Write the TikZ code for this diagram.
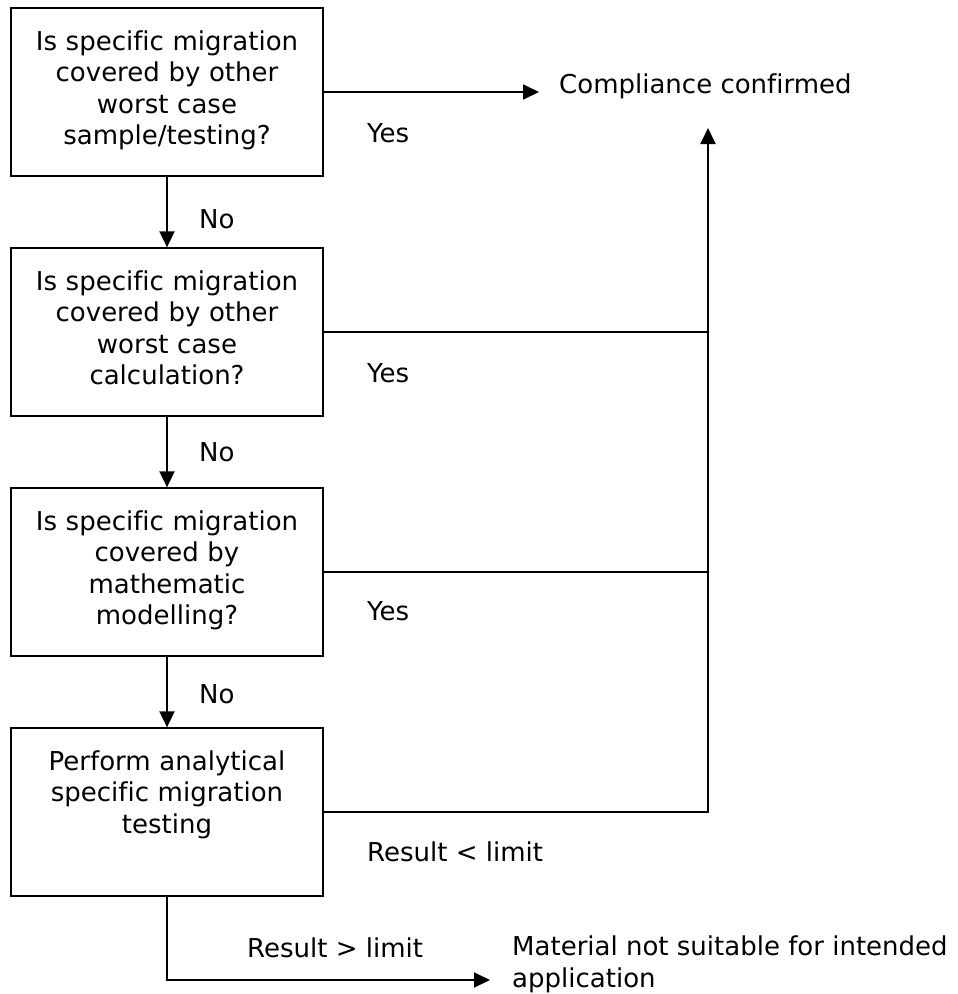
\documentclass[tikz,border=0pt]{standalone}
\usepackage{fontspec}
\setmainfont{DejaVu Sans}[Ligatures=NoCommon]
\usetikzlibrary{arrows.meta}
\newcommand{\diagfont}{\fontsize{26}{31.5}\selectfont}
\tikzset{
  box/.style={draw, line width=1.3pt, minimum width=312pt, minimum height=168pt, inner sep=0pt},
  btxt/.style={anchor=north, text width=312pt, align=center, inner sep=0pt, font=\diagfont},
  lbl/.style={anchor=base west, inner sep=0pt, font=\diagfont},
  conn/.style={line width=2pt},
  arr/.style={conn, -{Triangle[length=16pt,width=15pt]}},
}
\begin{document}
\begin{tikzpicture}[x=1pt,y=-1pt]
\useasboundingbox (0,0) rectangle (958,994);
% boxes
\node[box] (b1) at (167,92) {};
\node[box] (b2) at (167,332) {};
\node[box] (b3) at (167,572) {};
\node[box] (b4) at (167,812) {};
% box texts
\node[btxt] (t1) at ([yshift=-23pt]b1.north) {Is specific migration\\covered by other\\worst case\\sample/testing?};
\node[btxt] (t2) at ([yshift=-23pt]b2.north) {Is specific migration\\covered by other\\worst case\\calculation?};
\node[btxt] (t3) at ([yshift=-23pt]b3.north) {Is specific migration\\covered by\\mathematic\\modelling?};
\node[btxt] (t4) at ([yshift=-23pt]b4.north) {Perform analytical\\specific migration\\testing};
% outcomes
\node[lbl, inner xsep=20pt] (cc) at (539,93) {Compliance confirmed};
\node[anchor=north west, inner sep=0pt, align=left, font=\diagfont] (ms) at (512,936) {Material not suitable for intended\\application};
% labels
\node[lbl] (y1) at (367,142) {Yes};
\node[lbl] (y2) at (367,382) {Yes};
\node[lbl] (y3) at (367,620) {Yes};
\node[lbl] (n1) at (199,228) {No};
\node[lbl] (n2) at (199,461) {No};
\node[lbl] (n3) at (199,703) {No};
\node[lbl] (rl) at (367,861) {Result < limit};
\node[lbl] (rg) at (247,957) {Result > limit};
% coordinates
\coordinate (j4) at (708,812);
\coordinate (ctop) at (708,128);
\coordinate (mend) at (490,980);
% connectors
\draw[arr] (b1.east) -- (b1.east -| cc.west);
\draw[arr] (b1.south) -- (b2.north);
\draw[arr] (b2.south) -- (b3.north);
\draw[arr] (b3.south) -- (b4.north);
\draw[conn] (b2.east) -- (b2.east -| j4);
\draw[conn] (b3.east) -- (b3.east -| j4);
\draw[arr] (b4.east) -- (j4) -- (ctop);
\draw[arr] (b4.south) |- (mend);
\end{tikzpicture}
\end{document}
